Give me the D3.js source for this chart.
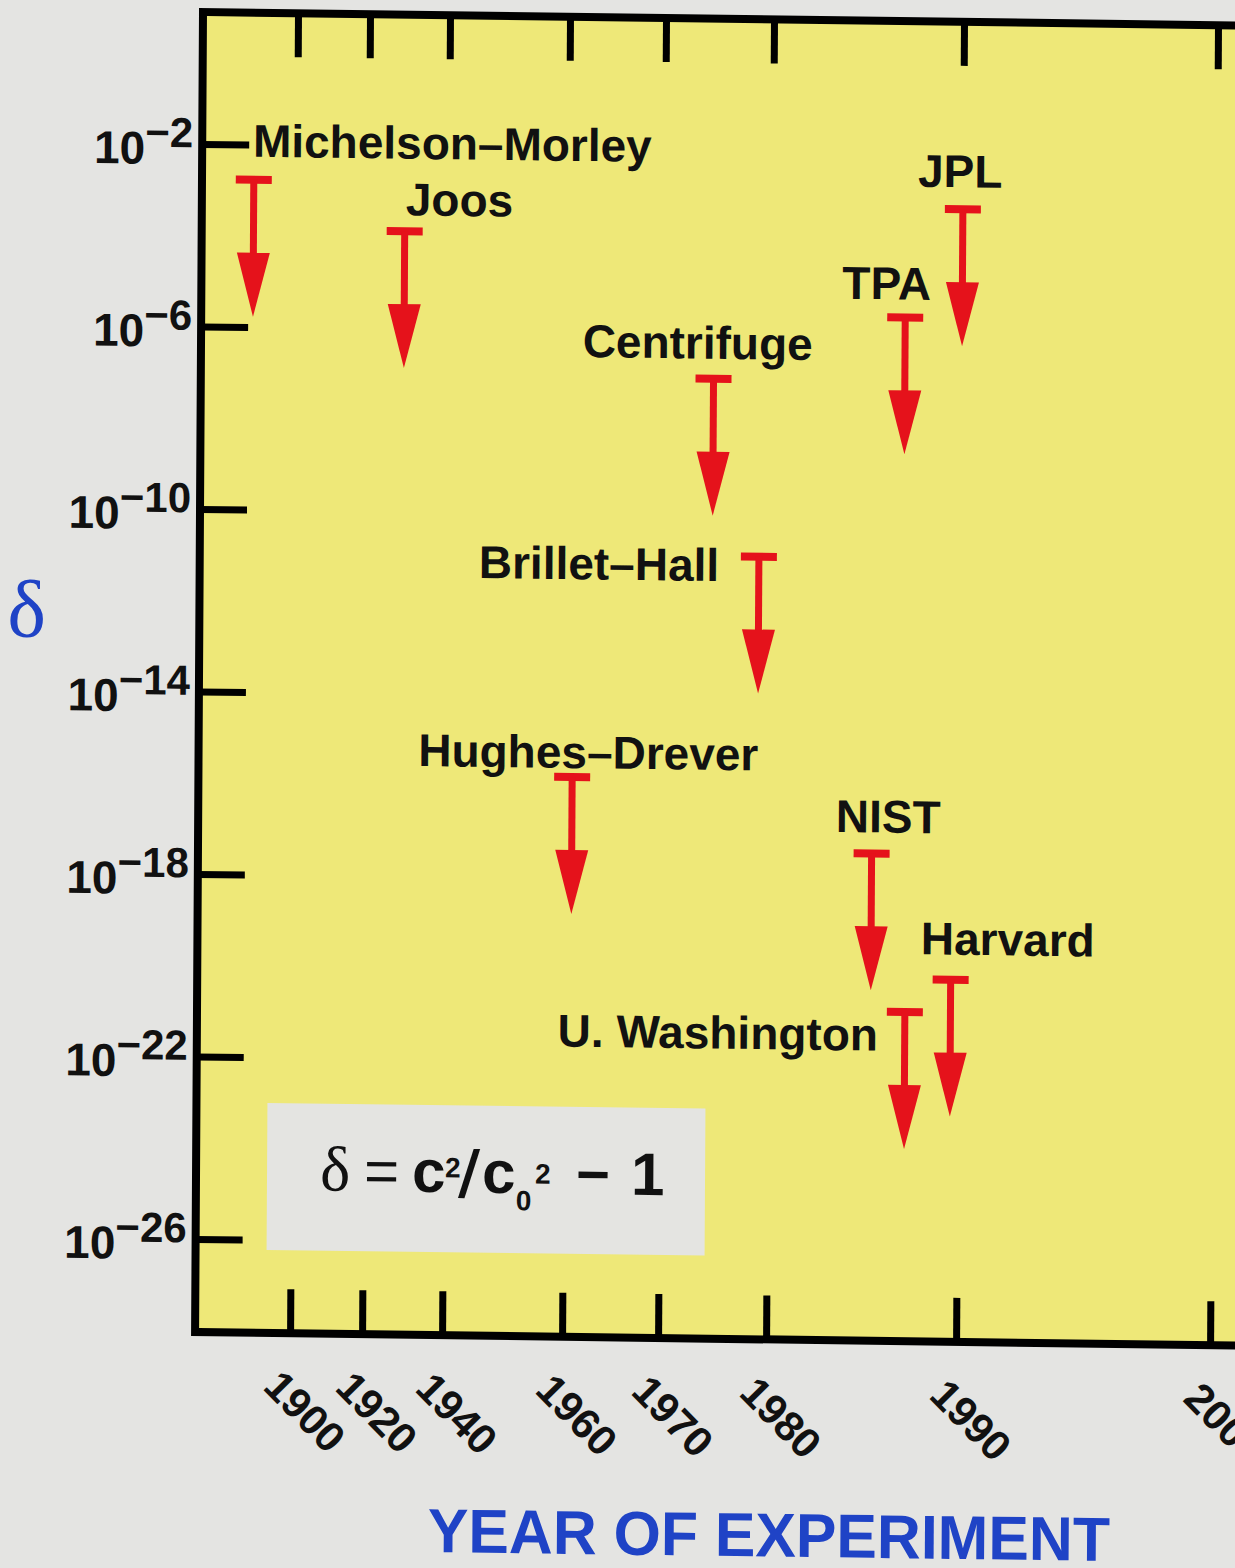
<!DOCTYPE html>
<html lang="en">
<head>
<meta charset="utf-8">
<title>delta vs year of experiment</title>
<script src="https://cdn.jsdelivr.net/npm/d3@7/dist/d3.min.js"></script>
<style>
  * { margin: 0; padding: 0; }
  body { background: #e4e4e2; overflow: hidden; }
  svg { display: block; }
</style>
</head>
<body>
<script>
const experiments = ['Michelson–Morley', 'Joos', 'Centrifuge', 'Brillet–Hall', 'Hughes–Drever',
  'TPA', 'JPL', 'NIST', 'Harvard', 'U. Washington']
const years = [1888, 1929, 1974.6, 1978.9, 1960.7, 1987, 1990, 1985.4, 1989.6, 1987.2]
const limits = [1.7e-3, 1.4e-4, 1e-7, 1.3e-11, 1.7e-16, 2.5e-6, 6.1e-4, 4.4e-18, 7.9e-21, 1.5e-21]

const yearTicks = [1900, 1920, 1940, 1960, 1970, 1980, 1990, 2000]
const deltaTicks = [1e-2, 1e-6, 1e-10, 1e-14, 1e-18, 1e-22, 1e-26]

// label placement relative to the top bar of each arrow
const labelOffset = {
  'Michelson–Morley': [-1, -23], 'Joos': [1, -16], 'Centrifuge': [-131, -20],
  'Brillet–Hall': [-280, 25], 'Hughes–Drever': [-154, -9], 'TPA': [-63, -18],
  'JPL': [-45, -22], 'NIST': [-36, -21], 'Harvard': [-30, -25], 'U. Washington': [-347, 39]
}

const W = 1235, H = 1568
const F = { left: 203, top: 12, right: 1300, bottom: 1332 }
const SANS = '"Liberation Sans", Arial, Helvetica, sans-serif'
const SERIF = '"Liberation Serif", "Times New Roman", serif'
const YELLOW = '#eee878'
const RED = '#e5121b'
const BLUE = '#1f43c6'
const ARROW_DECADES = 3

const svg = d3.select('body').append('svg').attr('width', W).attr('height', H)
svg.append('rect').attr('width', W).attr('height', H).attr('fill', '#e4e4e2')

// the scanned page is slightly skewed
const g = svg.append('g')
  .attr('transform', `translate(${F.left},${F.top}) matrix(1,0.013,-0.006,1,0,0) translate(${-F.left},${-F.top})`)

const x = d3.scaleLinear().domain(yearTicks).range([298, 370, 450, 570, 666, 774, 964, 1218])
const y = d3.scaleLog().domain([1e-2, 1e-26]).range([144, 1239])

g.append('rect')
  .attr('x', F.left).attr('y', F.top)
  .attr('width', F.right - F.left).attr('height', F.bottom - F.top)
  .attr('fill', YELLOW)

// formula box
g.append('rect')
  .attr('x', 274).attr('y', 1102).attr('width', 438).attr('height', 147)
  .attr('fill', '#e4e4e1')

const formula = g.append('g')
  .attr('font-family', SANS).attr('font-weight', 'bold').attr('fill', '#111')
const piece = (txt, px, py, size, family, weight) => {
  formula.append('text').attr('x', px).attr('y', py).attr('font-size', size)
    .attr('font-family', family || null).attr('font-weight', weight || null)
    .text(txt)
}
piece('δ', 327, 1189, 64, SERIF, 'normal')
piece('=', 371, 1189, 60, null, 'normal')
piece('c', 419, 1189, 60)
piece('2', 452, 1174, 28)
piece('/', 465, 1189, 60, '"DejaVu Sans", sans-serif')
piece('c', 489, 1189, 60)
piece('0', 523, 1206, 28)
piece('2', 542, 1179, 28)
piece('−', 583, 1189, 58)
piece('1', 638, 1189, 60)

// axes (tick marks point into the frame)
const styleTicks = a => {
  a.select('.domain').remove()
  a.selectAll('.tick line').attr('stroke', '#000').attr('stroke-width', 7)
}

g.append('g').attr('transform', `translate(0,${F.top})`)
  .call(d3.axisTop(x).tickValues(yearTicks).tickSizeInner(-44).tickSizeOuter(0).tickFormat(''))
  .call(styleTicks)

g.append('g').attr('transform', `translate(0,${F.bottom})`)
  .call(d3.axisBottom(x).tickValues(yearTicks).tickSizeInner(-44).tickSizeOuter(0).tickFormat(d3.format('d')))
  .call(styleTicks)
  .call(a => a.selectAll('.tick text')
    .attr('x', 0).attr('y', 0).attr('dy', '0.35em')
    .attr('transform', 'translate(15,78) rotate(45)')
    .attr('text-anchor', 'middle')
    .attr('font-family', SANS).attr('font-weight', 'bold').attr('font-size', 42)
    .attr('fill', '#111'))

g.append('g').attr('transform', `translate(${F.left},0)`)
  .call(d3.axisLeft(y).tickValues(deltaTicks).tickSizeInner(-47).tickSizeOuter(0))
  .call(styleTicks)
  .call(a => a.selectAll('.tick text').each(function (d) {
    const t = d3.select(this)
    t.text(null).attr('x', -9).attr('y', 20).attr('dy', null)
      .attr('text-anchor', 'end')
      .attr('font-family', SANS).attr('font-weight', 'bold').attr('font-size', 46)
      .attr('fill', '#111')
    t.append('tspan').text('10')
    t.append('tspan').attr('font-size', 42).attr('dy', -17)
      .text('−' + Math.round(-Math.log10(d)))
  }))

// frame on top of the ticks
g.append('rect')
  .attr('x', F.left).attr('y', F.top)
  .attr('width', F.right - F.left).attr('height', F.bottom - F.top)
  .attr('fill', 'none').attr('stroke', '#000').attr('stroke-width', 8)

// upper-limit arrows
const rows = experiments.map((name, i) => ({ name, year: years[i], limit: limits[i] }))

const arrow = g.append('g').selectAll('g').data(rows).join('g')
  .attr('fill', RED)

arrow.append('rect')
  .attr('x', d => x(d.year) - 18).attr('y', d => y(d.limit) - 4)
  .attr('width', 36).attr('height', 8)

arrow.append('rect')
  .attr('x', d => x(d.year) - 3.5).attr('y', d => y(d.limit))
  .attr('width', 7)
  .attr('height', d => y(d.limit * Math.pow(10, -ARROW_DECADES)) - y(d.limit) - 60)

arrow.append('path')
  .attr('d', d => {
    const cx = x(d.year), tip = y(d.limit * Math.pow(10, -ARROW_DECADES))
    return `M${cx - 16.5},${tip - 64}L${cx + 16.5},${tip - 64}L${cx},${tip}Z`
  })

g.append('g').selectAll('text').data(rows).join('text')
  .attr('x', d => x(d.year) + labelOffset[d.name][0])
  .attr('y', d => y(d.limit) + labelOffset[d.name][1])
  .attr('font-family', SANS).attr('font-weight', 'bold').attr('font-size', 46)
  .attr('fill', '#111')
  .text(d => d.name)

// axis titles
g.append('text')
  .attr('x', 11).attr('y', 639)
  .attr('font-family', SERIF).attr('font-size', 82).attr('fill', BLUE)
  .text('δ')

g.append('text')
  .attr('x', 437).attr('y', 1549)
  .attr('textLength', 682).attr('lengthAdjust', 'spacingAndGlyphs')
  .attr('font-family', SANS).attr('font-weight', 'bold').attr('font-size', 62)
  .attr('fill', BLUE)
  .text('YEAR OF EXPERIMENT')
</script>
</body>
</html>
